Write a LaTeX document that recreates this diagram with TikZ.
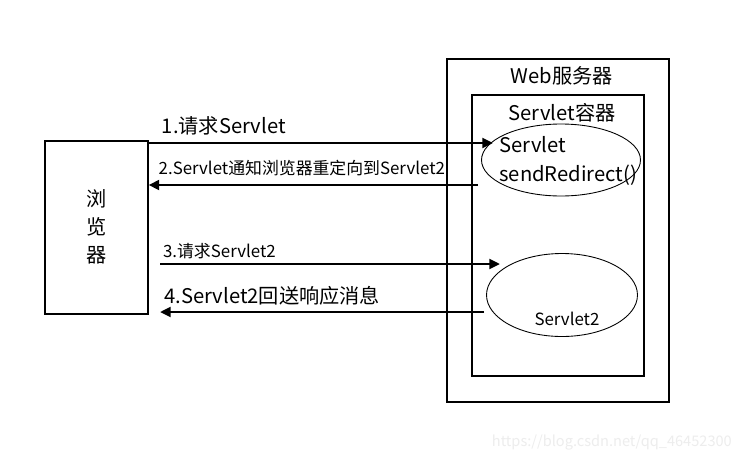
\documentclass[tikz,border=0pt]{standalone}
\usepackage{fontspec}
\setmainfont{Noto Sans CJK SC}
\usetikzlibrary{shapes.geometric,arrows.meta}
\begin{document}
\begin{tikzpicture}[x=0.02cm,y=-0.02cm]

	\tikzstyle{box}=[draw,rectangle,line width=0.7pt,inner sep=0pt]
	\tikzstyle{servlet}=[draw,ellipse,line width=0.5pt,inner sep=0pt]
	\tikzstyle{msg}=[line width=1.5pt,-{Triangle[length=6pt,width=5.5pt]}]
	\tikzstyle{big}=[font=\fontsize{11.5pt}{13pt}\selectfont,inner sep=0pt]
	\tikzstyle{small}=[font=\fontsize{9.6pt}{11pt}\selectfont,inner sep=0pt]

	\useasboundingbox[fill=white] (0,0) rectangle (748,464);

	\node[box,minimum width=2.06cm,minimum height=3.46cm] (browser) at (96.5,227.5) {};
	\node[big,align=center] (btext) at (97,227) {浏\\[3pt]览\\[3pt]器};

	\node[box,minimum width=4.44cm,minimum height=6.86cm] (web) at (558,230.5) {};
	\node[big] (webtitle) at (562,76) {Web服务器};

	\node[box,minimum width=3.44cm,minimum height=5.62cm] (cont) at (558,235.5) {};
	\node[big] (conttitle) at (562,113) {Servlet容器};

	\node[servlet,minimum width=3.18cm,minimum height=1.44cm] (s1) at (561,160) {};
	\node[big,anchor=west,align=left] (s1text) at (499,161) {Servlet\\[3.5pt]sendRedirect()};

	\node[servlet,minimum width=3.02cm,minimum height=1.66cm] (s2) at (562,295) {};
	\node[small] (s2text) at (567,319) {Servlet2};

	% messages
	\coordinate (r1) at (493,143);
	\coordinate (l2) at (478,185);
	\coordinate (l3) at (160,264);
	\coordinate (r3) at (500,264);
	\coordinate (r4) at (484,312);
	\coordinate (l4) at (160,312);

	\draw[msg] (browser.east |- r1) -- (r1) node[big,pos=0,anchor=west,yshift=9.6pt,xshift=6.8pt] (m1) {1.请求Servlet};
	\draw[msg] (l2) -- (browser.east |- l2) node[small,pos=1,anchor=west,yshift=9.6pt,xshift=5pt] (m2) {2.Servlet通知浏览器重定向到Servlet2};
	\draw[msg] (l3) -- (r3) node[small,pos=0,anchor=west,yshift=7.4pt,xshift=1pt] (m3) {3.请求Servlet2};
	\draw[msg] (r4) -- (l4) node[big,pos=1,anchor=west,yshift=9pt,xshift=1.7pt] (m4) {4.Servlet2回送响应消息};

	\node[font=\fontsize{8.3pt}{10pt}\selectfont,text=black!7,anchor=east] (mark) at (738,443) {https://blog.csdn.net/qq\_46452300};

\end{tikzpicture}
\end{document}
